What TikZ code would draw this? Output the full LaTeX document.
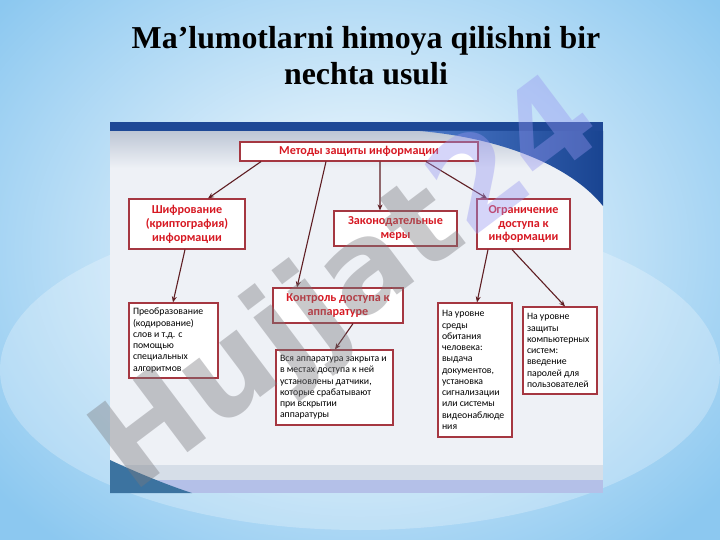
\documentclass[tikz,border=0pt]{standalone}
\usepackage{fontspec}
\setmainfont{Liberation Serif}
\newfontfamily\boxfont{Carlito}
\newfontfamily\wmfont{DejaVu Sans}
\usetikzlibrary{arrows.meta,positioning,shadows}
\definecolor{bgblue}{RGB}{140,200,240}
\definecolor{bandblue}{RGB}{30,72,150}
\definecolor{swooshdark}{RGB}{25,68,145}
\definecolor{swooshlight}{RGB}{75,120,200}
\definecolor{panel}{RGB}{238,241,246}
\definecolor{panelgray}{RGB}{188,197,212}
\definecolor{bandgray}{RGB}{214,222,232}
\definecolor{bandlav}{RGB}{180,192,232}
\definecolor{tealblue}{RGB}{60,115,160}
\definecolor{boxline}{RGB}{165,55,65}
\definecolor{redtxt}{RGB}{215,25,35}
\definecolor{arrowcol}{RGB}{95,30,35}
\definecolor{wmgray}{RGB}{120,120,125}
\definecolor{wmlav}{RGB}{150,150,240}
\tikzset{
  rbox/.style={draw=boxline, line width=1.2bp, fill=white, inner sep=2bp, align=center,
    text=redtxt, font=\boxfont\bfseries\fontsize{12.2}{14}\selectfont,
    drop shadow={shadow xshift=1.2bp, shadow yshift=-1.2bp, opacity=0.25}},
  bbox/.style={draw=boxline, line width=1.2bp, fill=white, inner sep=4bp, align=flush left,
    text=black, font=\boxfont\fontsize{9.8}{11.3}\selectfont,
    drop shadow={shadow xshift=1.2bp, shadow yshift=-1.2bp, opacity=0.25}},
  arr/.style={draw=arrowcol, line width=1.1bp, -{Stealth[length=6bp,width=5bp]}},
  title/.style={font=\bfseries\fontsize{32}{36}\selectfont, align=center, inner sep=0pt},
  wm/.style={font=\wmfont\bfseries\fontsize{125}{125}\selectfont, text=wmgray, opacity=0.4, inner sep=0pt}
}

\begin{document}
\begin{tikzpicture}[x=1bp,y=-1bp]
\useasboundingbox (0,0) rectangle (720,540);
% slide background
\fill[bgblue] (0,0) rectangle (720,540);
\shade[inner color=white, outer color=bgblue] (360,250) ellipse (470 and 380);
\fill[white, opacity=0.25] (360,370) ellipse (360 and 160);
% picture panel
\fill[panel] (110,122) rectangle (603,493);
\shade[top color=panelgray, bottom color=panel] (110,130) rectangle (603,168);
\fill[bandblue] (110,122) rectangle (603,131);
\shade[left color=swooshlight, right color=swooshdark] (420,131) .. controls (500,138) and (570,165) .. (603,206) -- (603,131) -- cycle;
\fill[bandgray] (110,465) rectangle (603,480);
\fill[bandlav] (110,480) rectangle (603,493);
\fill[tealblue] (110,460) .. controls (140,474) and (170,486) .. (192,493) -- (110,493) -- cycle;

\node[title] (ttl) at (366,56) {Ma’lumotlarni himoya qilishni bir\\nechta usuli};

% boxes
\node[rbox, minimum width=238bp, minimum height=19bp] (top) at (359,151.5) {Методы защиты информации};
\node[rbox, minimum width=116bp, minimum height=50bp] (shifr) at (187,224) {Шифрование\\(криптография)\\информации};
\node[rbox, minimum width=123bp, minimum height=35bp] (zakon) at (395.5,228.5) {Законодательные\\меры};
\node[rbox, minimum width=93bp, minimum height=50bp] (ogran) at (523.5,224) {Ограничение\\доступа к\\информации};
\node[rbox, minimum width=130bp, minimum height=35bp] (kontrol) at (338,305.5) {Контроль доступа к\\аппаратуре};
\node[bbox, text width=81bp, minimum height=75bp] (preobr) at (173.5,340.5) {Преобразование\\(кодирование)\\слов и т.д. с\\помощью\\специальных\\алгоритмов};
\node[bbox, text width=109bp, minimum height=75bp] (vsya) at (334.5,387.5) {Вся аппаратура закрыта и\\в местах доступа к ней\\установлены датчики,\\которые срабатывают\\при вскрытии\\аппаратуры};
\node[bbox, text width=66bp, minimum height=134bp] (sreda) at (475,370) {На уровне\\среды\\обитания\\человека:\\выдача\\документов,\\установка\\сигнализации\\или системы\\видеонаблюде\\ния};
\node[bbox, text width=66bp, minimum height=87bp] (zashch) at (560,350.5) {На уровне\\защиты\\компьютерных\\систем:\\введение\\паролей для\\пользователей};

% connectors
\foreach \a/\da/\b/\db in {top/-98/shifr/21, top/-33/kontrol/-41, top/21/zakon/-15.5, top/67/ogran/-36.5,
  shifr/-2/preobr/-0.5, kontrol/15/vsya/0.5, ogran/-35.5/sreda/2, ogran/-11.5/zashch/5}
  \draw[arr] ([xshift=\da bp]\a.south) -- ([xshift=\db bp]\b.north);

% watermark
\node[wm, rotate=37] (mark) at (350,288) {Hujjat\textcolor{wmlav}{24}};
\end{tikzpicture}
\end{document}
